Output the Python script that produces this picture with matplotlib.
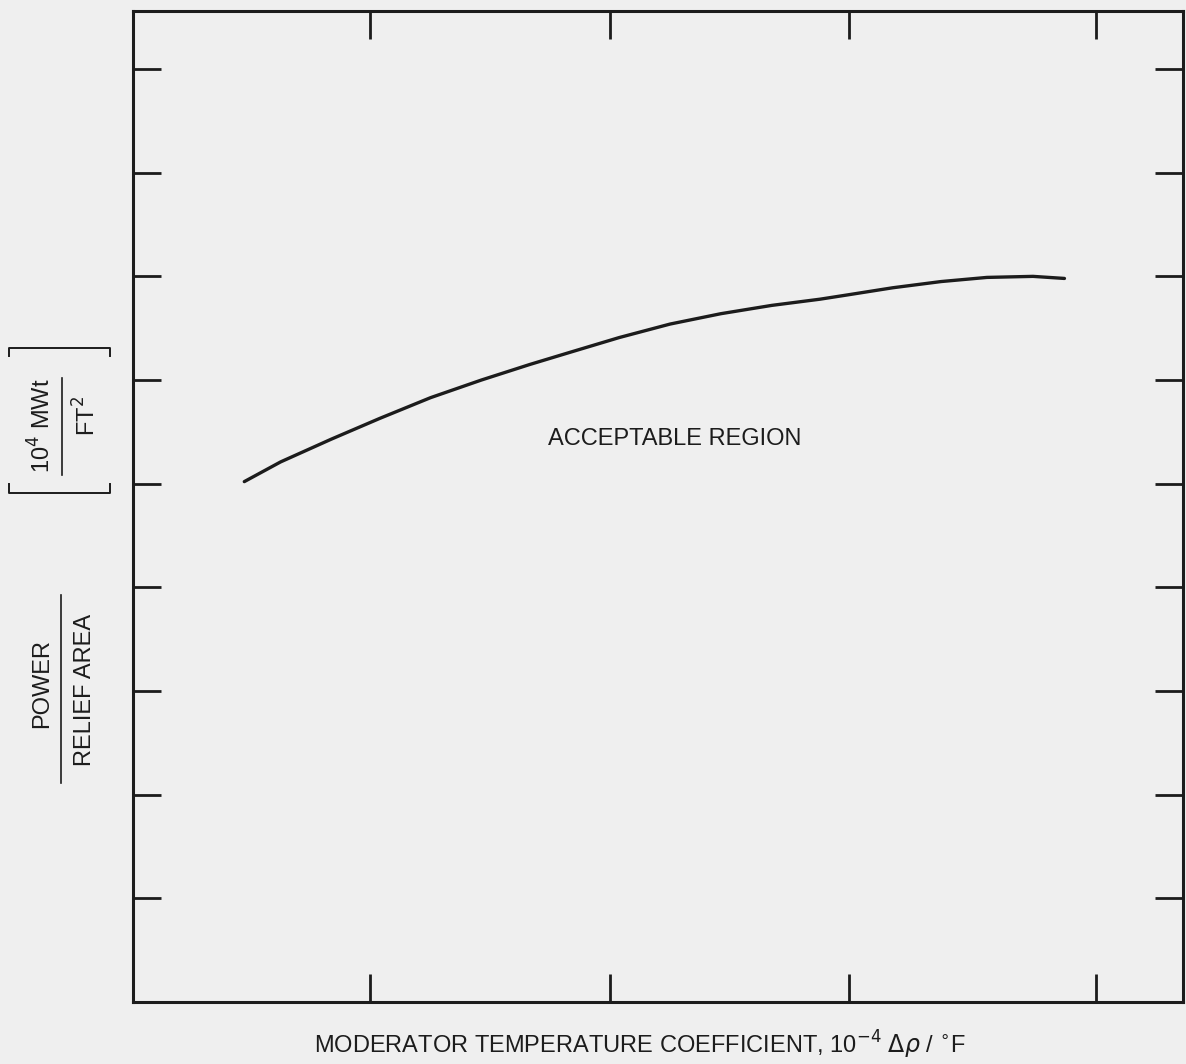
import matplotlib.pyplot as plt
from matplotlib.lines import Line2D

# curve (x in tick units, y in tick units)
coef = [0.48, 0.63, 0.84, 1.04, 1.25, 1.46, 1.66, 1.83, 2.03, 2.24,
        2.45, 2.66, 2.86, 2.97, 3.16, 3.36, 3.55, 3.74, 3.87]
power = [5.02, 5.21, 5.43, 5.63, 5.83, 6.00, 6.15, 6.27, 6.41, 6.54,
         6.64, 6.72, 6.78, 6.82, 6.89, 6.95, 6.99, 7.00, 6.98]
x_ticks = [1, 1.99, 2.98, 4.0]
y_ticks = [1, 2, 3, 4, 5, 6, 7, 8, 9]

ink = '#1c1c1c'
bg = '#efefef'

plt.rcParams['font.family'] = ['Liberation Sans', 'DejaVu Sans']

fig = plt.figure(figsize=(11.86, 10.64), dpi=100, facecolor=bg)
W, H = 1186, 1064
ax = fig.add_axes([133 / W, (H - 1002) / H, (1183 - 133) / W, (1002 - 11) / H])
ax.set_facecolor(bg)

ax.plot(coef, power, color=ink, linewidth=2.4, solid_capstyle='round',
        solid_joinstyle='round')
ax.text(2.26, 5.43, 'ACCEPTABLE REGION', ha='center', va='center',
        fontsize=17, color=ink)

ax.set_xlim(0.02, 4.36)
ax.set_ylim(0.0, 9.56)
ax.set_xticks(x_ticks)
ax.set_yticks(y_ticks)
ax.tick_params(direction='in', length=20, width=2, color=ink,
               top=True, right=True, labelbottom=False, labelleft=False)
for s in ax.spines.values():
    s.set_linewidth(2.2)
    s.set_color(ink)

def fx(px):
    return px / W

def fy(py):
    return 1 - py / H

# x label
fig.text(fx(640), fy(1045),
         'MODERATOR TEMPERATURE COEFFICIENT, 10$^{-4}$ $\\Delta\\rho$ / $^{\\circ}$F',
         ha='center', va='center', fontsize=17, color=ink)

# y label: POWER / RELIEF AREA with fraction bar
fig.text(fx(42), fy(683), 'POWER', rotation=90, ha='center', va='center',
         fontsize=17, color=ink)
fig.text(fx(85), fy(690), 'RELIEF AREA', rotation=90, ha='center', va='center',
         fontsize=17, color=ink)
fig.add_artist(Line2D([fx(61), fx(61)], [fy(595), fy(783)],
                      transform=fig.transFigure, color=ink, linewidth=1.2))

# units in brackets
fig.text(fx(42), fy(426), '10$^4$ MWt', rotation=90, ha='center', va='center',
         fontsize=17, color=ink)
fig.text(fx(87), fy(416), 'FT$^2$', rotation=90, ha='center', va='center',
         fontsize=17, color=ink)
fig.add_artist(Line2D([fx(62), fx(62)], [fy(378), fy(475)],
                      transform=fig.transFigure, color=ink, linewidth=1.2))
for yb, d in [(348, 8), (493, -9)]:
    fig.add_artist(Line2D([fx(9), fx(9), fx(110), fx(110)],
                          [fy(yb + d), fy(yb), fy(yb), fy(yb + d)],
                          transform=fig.transFigure, color=ink, linewidth=1.4))

plt.savefig('out.png', dpi=100, facecolor=bg)
